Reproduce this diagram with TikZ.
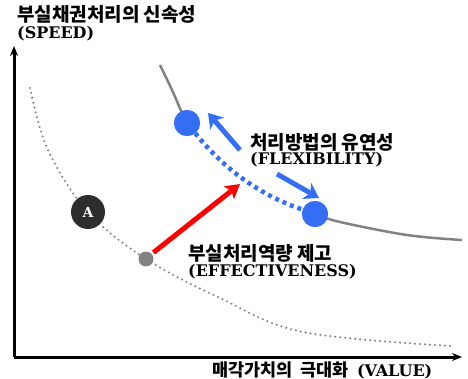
\documentclass[tikz,border=0pt]{standalone}
\usepackage{fontspec}
\setmainfont{DejaVu Serif}
\newfontfamily\kr{Noto Sans CJK KR}
\usetikzlibrary{arrows.meta}
\definecolor{myblue}{RGB}{52,110,245}
\definecolor{curvegray}{RGB}{130,130,130}
\definecolor{darkdot}{RGB}{45,45,45}
\tikzset{
  krlabel/.style={anchor=west, inner sep=0pt, font=\kr\bfseries\fontsize{19}{22}\selectfont},
  enlabel/.style={anchor=west, inner sep=0pt, font=\bfseries\fontsize{16}{18}\selectfont},
  axisline/.style={line width=3pt, -{Stealth[length=10pt,width=8pt]}},
  bluearrow/.style={myblue, line width=5pt, -{Stealth[length=14pt,width=18pt,inset=4pt]}},
  redarrow/.style={red, line width=5pt, -{Stealth[length=14pt,width=16pt,inset=3pt]}},
  bluedot/.style={circle, fill=myblue, minimum size=26pt, inner sep=0pt},
}
\begin{document}
\begin{tikzpicture}[x=1pt,y=-1pt]
\useasboundingbox (0,0) rectangle (468,379);
% axes
\coordinate (O) at (14,357);
\coordinate (Ytip) at (14,46);
\coordinate (Xtip) at (462,357);
\draw[axisline] (O) -- (Ytip);
\draw[axisline] (O) -- (Xtip);
% lower dotted curve
\draw[curvegray, line width=2.3pt, line cap=round, dash pattern=on 0pt off 5pt]
  plot[smooth, tension=0.6] coordinates {(30,88) (48,150) (88,212) (146,259) (220,298) (303,332) (452,346)};
% upper solid curve
\node[bluedot] (B1) at (187,123) {};
\node[bluedot] (B2) at (315,214) {};
\draw[curvegray, line width=2.5pt] plot[smooth, tension=0.6] coordinates {(160,65) (172,90) (182,113) (B1)};
\draw[curvegray, line width=2.5pt] plot[smooth, tension=0.6] coordinates {(B2) (340,222) (407,235) (462,240)};
\node[bluedot] at (B1) {};
\node[bluedot] at (B2) {};
% blue dotted connection
\draw[myblue, line width=4.5pt, dash pattern=on 4pt off 4pt]
  (B1) .. controls (225,170) and (260,195) .. (B2);
% blue arrows
\coordinate (a1s) at (240,150);
\coordinate (a1e) at (208,113);
\coordinate (a2s) at (277,174);
\coordinate (a2e) at (319,198);
\draw[bluearrow] (a1s) -- (a1e);
\draw[bluearrow] (a2s) -- (a2e);
% A node and gray dot
\node[circle, fill=darkdot, minimum size=34pt, inner sep=0pt, text=white, font=\bfseries\fontsize{14}{14}\selectfont] (A) at (88,212) {A};
\node[circle, fill=curvegray, minimum size=15pt, inner sep=0pt] (G) at (146,259) {};
% red arrow
\coordinate (redtip) at (240,184);
\draw[redarrow] (G.north east) ++(2,-1) coordinate (redtail) (redtail) -- (redtip);
% labels
\node[krlabel] (t1) at (17,14) {부실채권처리의 신속성};
\node[enlabel] (t1e) at (17,34) {(SPEED)};
\node[krlabel] (t2) at (250,142) {처리방법의 유연성};
\node[enlabel] (t2e) at (250,160) {(FLEXIBILITY)};
\node[krlabel] (t3) at (188,253) {부실처리역량 제고};
\node[enlabel] (t3e) at (188,272) {(EFFECTIVENESS)};
\node[krlabel, font=\kr\bfseries\fontsize{17.5}{19}\selectfont] (t4) at (212,370) {매각가치의\ \ 극대화\ \ {\rmfamily\fontsize{16}{18}\selectfont(VALUE)}};
\end{tikzpicture}
\end{document}
